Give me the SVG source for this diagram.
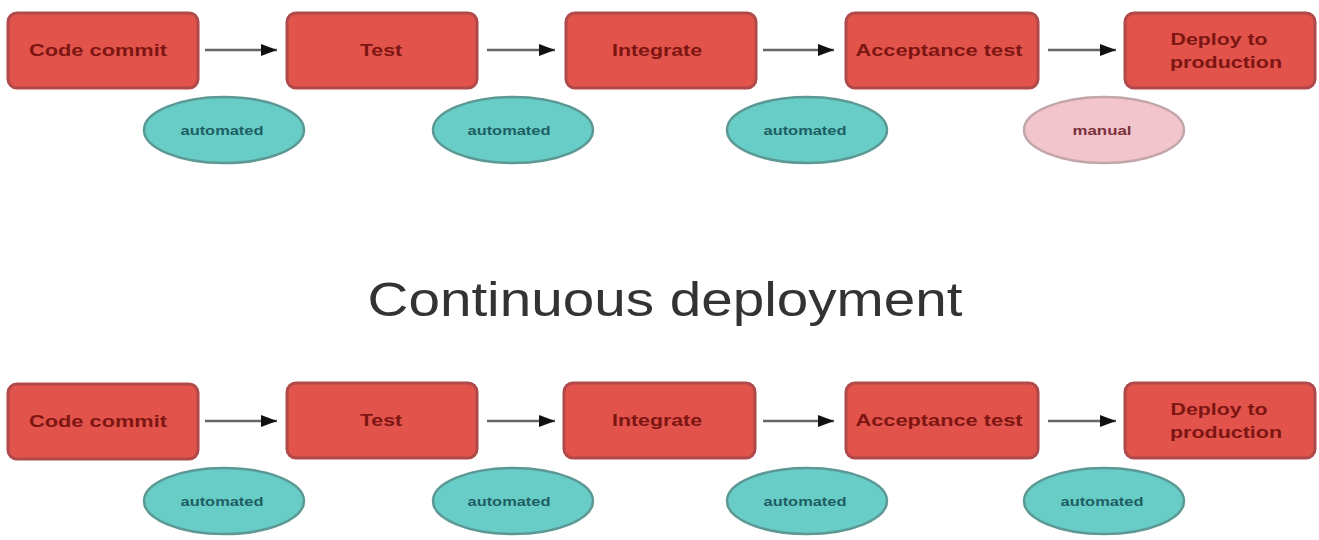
<svg xmlns="http://www.w3.org/2000/svg" width="1319" height="540" viewBox="0 0 1319 540">
<style>
.box{fill:#e2534b;stroke:#b04a4a;stroke-width:3}
.bt{font-family:"Liberation Sans",Arial,sans-serif;font-weight:bold;font-size:17px;fill:#7d1512;text-anchor:middle}
.auto{fill:#68cdc7;stroke:#5c9894;stroke-width:2.5}
.man{fill:#f2c5cd;stroke:#c2a6aa;stroke-width:2.5}
.et{font-family:"Liberation Sans",Arial,sans-serif;font-weight:bold;font-size:13px;fill:#1d5e62;text-anchor:middle}
.mt{font-family:"Liberation Sans",Arial,sans-serif;font-weight:bold;font-size:13px;fill:#7a2f3a;text-anchor:middle}
.ln{stroke:#666;stroke-width:2.5;fill:none}
.title{font-family:"Liberation Sans",Arial,sans-serif;font-size:48px;fill:#333;text-anchor:middle}
</style>
<defs>
<marker id="ah" markerWidth="16" markerHeight="12" refX="16" refY="6" orient="auto" markerUnits="userSpaceOnUse" viewBox="0 0 16 12">
<path d="M0,0 L16,6 L0,12 z" fill="#111"/>
</marker>
</defs>
<rect width="1319" height="540" fill="#fff"/>
<g id="connectors">
<line class="ln" x1="205" y1="50" x2="277" y2="50" marker-end="url(#ah)"/>
<line class="ln" x1="487" y1="50" x2="555" y2="50" marker-end="url(#ah)"/>
<line class="ln" x1="763" y1="50" x2="834" y2="50" marker-end="url(#ah)"/>
<line class="ln" x1="1048" y1="50" x2="1116" y2="50" marker-end="url(#ah)"/>
<line class="ln" x1="205" y1="421" x2="277" y2="421" marker-end="url(#ah)"/>
<line class="ln" x1="487" y1="421" x2="555" y2="421" marker-end="url(#ah)"/>
<line class="ln" x1="763" y1="421" x2="834" y2="421" marker-end="url(#ah)"/>
<line class="ln" x1="1048" y1="421" x2="1116" y2="421" marker-end="url(#ah)"/>
</g>
<g id="t-code"><rect class="box" x="8" y="13" width="190" height="75" rx="9"/><text class="bt" x="98" y="56" textLength="138" lengthAdjust="spacingAndGlyphs">Code commit</text></g>
<g id="t-test"><rect class="box" x="287" y="13" width="190" height="75" rx="9"/><text class="bt" x="381" y="56" textLength="42" lengthAdjust="spacingAndGlyphs">Test</text></g>
<g id="t-integrate"><rect class="box" x="566" y="13" width="190" height="75" rx="9"/><text class="bt" x="657" y="56" textLength="90" lengthAdjust="spacingAndGlyphs">Integrate</text></g>
<g id="t-accept"><rect class="box" x="846" y="13" width="192" height="75" rx="9"/><text class="bt" x="939" y="56" textLength="167" lengthAdjust="spacingAndGlyphs">Acceptance test</text></g>
<g id="t-deploy"><rect class="box" x="1125" y="13" width="190" height="75" rx="9"/><text class="bt" x="1219" y="45" textLength="97" lengthAdjust="spacingAndGlyphs">Deploy to</text><text class="bt" x="1226" y="68" textLength="112" lengthAdjust="spacingAndGlyphs">production</text></g>
<g id="t-e1"><ellipse class="auto" cx="224" cy="130" rx="80" ry="33"/><text class="et" x="222" y="135" textLength="83" lengthAdjust="spacingAndGlyphs">automated</text></g>
<g id="t-e2"><ellipse class="auto" cx="513" cy="130" rx="80" ry="33"/><text class="et" x="509" y="135" textLength="83" lengthAdjust="spacingAndGlyphs">automated</text></g>
<g id="t-e3"><ellipse class="auto" cx="807" cy="130" rx="80" ry="33"/><text class="et" x="805" y="135" textLength="83" lengthAdjust="spacingAndGlyphs">automated</text></g>
<g id="t-e4"><ellipse class="man" cx="1104" cy="130" rx="80" ry="33"/><text class="mt" x="1102" y="135" textLength="59" lengthAdjust="spacingAndGlyphs">manual</text></g>
<g id="title"><text class="title" x="665" y="316" textLength="595" lengthAdjust="spacingAndGlyphs">Continuous deployment</text></g>
<g id="b-code"><rect class="box" x="8" y="384" width="190" height="75" rx="9"/><text class="bt" x="98" y="427" textLength="138" lengthAdjust="spacingAndGlyphs">Code commit</text></g>
<g id="b-test"><rect class="box" x="287" y="383" width="190" height="75" rx="9"/><text class="bt" x="381" y="426" textLength="42" lengthAdjust="spacingAndGlyphs">Test</text></g>
<g id="b-integrate"><rect class="box" x="564" y="383" width="191" height="75" rx="9"/><text class="bt" x="657" y="426" textLength="90" lengthAdjust="spacingAndGlyphs">Integrate</text></g>
<g id="b-accept"><rect class="box" x="846" y="383" width="192" height="75" rx="9"/><text class="bt" x="939" y="426" textLength="167" lengthAdjust="spacingAndGlyphs">Acceptance test</text></g>
<g id="b-deploy"><rect class="box" x="1125" y="383" width="190" height="75" rx="9"/><text class="bt" x="1219" y="415" textLength="97" lengthAdjust="spacingAndGlyphs">Deploy to</text><text class="bt" x="1226" y="438" textLength="112" lengthAdjust="spacingAndGlyphs">production</text></g>
<g id="b-e1"><ellipse class="auto" cx="224" cy="501" rx="80" ry="33"/><text class="et" x="222" y="506" textLength="83" lengthAdjust="spacingAndGlyphs">automated</text></g>
<g id="b-e2"><ellipse class="auto" cx="513" cy="501" rx="80" ry="33"/><text class="et" x="509" y="506" textLength="83" lengthAdjust="spacingAndGlyphs">automated</text></g>
<g id="b-e3"><ellipse class="auto" cx="807" cy="501" rx="80" ry="33"/><text class="et" x="805" y="506" textLength="83" lengthAdjust="spacingAndGlyphs">automated</text></g>
<g id="b-e4"><ellipse class="auto" cx="1104" cy="501" rx="80" ry="33"/><text class="et" x="1102" y="506" textLength="83" lengthAdjust="spacingAndGlyphs">automated</text></g>
</svg>
